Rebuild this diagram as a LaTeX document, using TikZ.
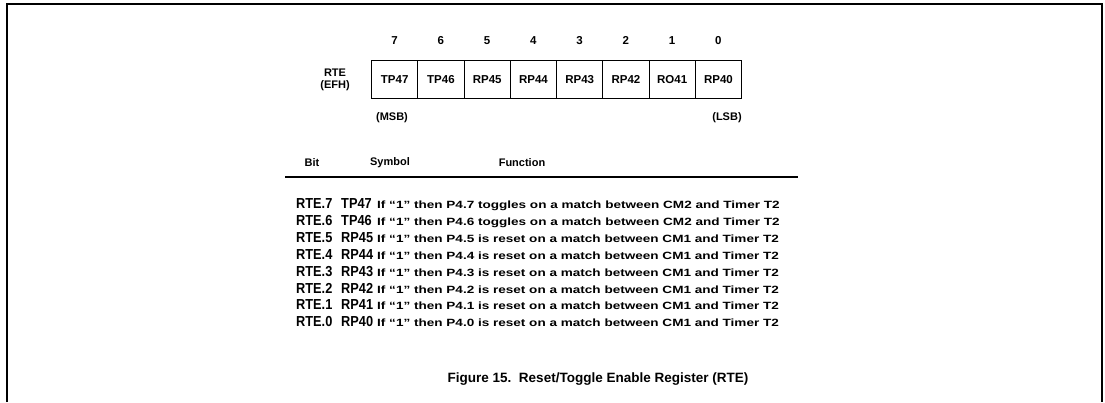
\documentclass[tikz,border=0pt]{standalone}
\usepackage{fontspec}
\usepackage{graphicx}
\setmainfont{Liberation Sans}
\usetikzlibrary{calc}
\newcommand{\wideX}[1]{\scalebox{1.29}[1]{#1}}
\newcommand{\narrowX}[1]{\scalebox{0.88}[1]{#1}}
\begin{document}
\begin{tikzpicture}[x=1pt,y=-1pt,
  frameline/.style={line width=1.4pt},
  cell/.style={draw,line width=1.1pt,minimum width=46.25pt,minimum height=38pt,inner sep=0pt,font=\fontsize{11.5}{13}\selectfont\bfseries,anchor=north west},
  bitnum/.style={font=\fontsize{11.5}{13}\selectfont\bfseries,anchor=base,inner sep=0pt},
  small/.style={font=\fontsize{11}{12}\selectfont\bfseries,align=center,inner sep=0pt},
  bitlbl/.style={font=\fontsize{14.5}{16}\selectfont\bfseries,anchor=base west,inner sep=0pt},
  desc/.style={font=\fontsize{10.5}{12}\selectfont\bfseries,anchor=base west,inner sep=0pt},
  caption/.style={font=\fontsize{13.5}{15}\selectfont\bfseries}]
\useasboundingbox (0,0) rectangle (1105,402);
% frame
\coordinate (fbl) at (7,402);
\coordinate (ftl) at (7,4);
\coordinate (ftr) at (1102,4);
\coordinate (fbr) at (1102,402);
\draw[frameline] (fbl) -- (ftl) -- (ftr) -- (fbr);
% register cells
\foreach \i/\t [count=\k from 0] in {7/TP47,6/TP46,5/RP45,4/RP44,3/RP43,2/RP42,1/RO41,0/RP40}{
  \node[cell] (c\i) at ({371+46.25*\k},60) {\t};
  \node[bitnum] (b\i) at ($(c\i.north)+(0,-16)$) {\i};
}
\node[small] (rte) at (335,80) {RTE\\(EFH)};
\node[small] (msb) at (392,118) {(MSB)};
\node[small] (lsb) at (727,118) {(LSB)};
% table header
\node[small] (hbit) at (312,163) {Bit};
\node[small] (hsym) at (390,163) {Symbol};
\node[small] (hfun) at (522,163) {Function};
\coordinate (r1) at (285,177);
\coordinate (r2) at (798,177);
\draw[line width=1.8pt] (r1) -- (r2);
% rows
\foreach \b/\s/\d [count=\k from 0] in {
  7/TP47/{P4.7 toggles on a match between CM2},
  6/TP46/{P4.6 toggles on a match between CM2},
  5/RP45/{P4.5 is reset on a match between CM1},
  4/RP44/{P4.4 is reset on a match between CM1},
  3/RP43/{P4.3 is reset on a match between CM1},
  2/RP42/{P4.2 is reset on a match between CM1},
  1/RP41/{P4.1 is reset on a match between CM1},
  0/RP40/{P4.0 is reset on a match between CM1}}{
  \node[bitlbl] (rb\b) at (296,{208.5+16.9*\k}) {\narrowX{RTE.\b}};
  \node[bitlbl] (rs\b) at (341,{208.5+16.9*\k}) {\narrowX{\s}};
  \node[desc] (rd\b) at (377,{208.5+16.9*\k}) {\wideX{If “1” then \d\ and Timer T2}};
}
\node[caption] (cap) at (598,379) {Figure 15.\ \ Reset/Toggle Enable Register (RTE)};
\end{tikzpicture}
\end{document}
